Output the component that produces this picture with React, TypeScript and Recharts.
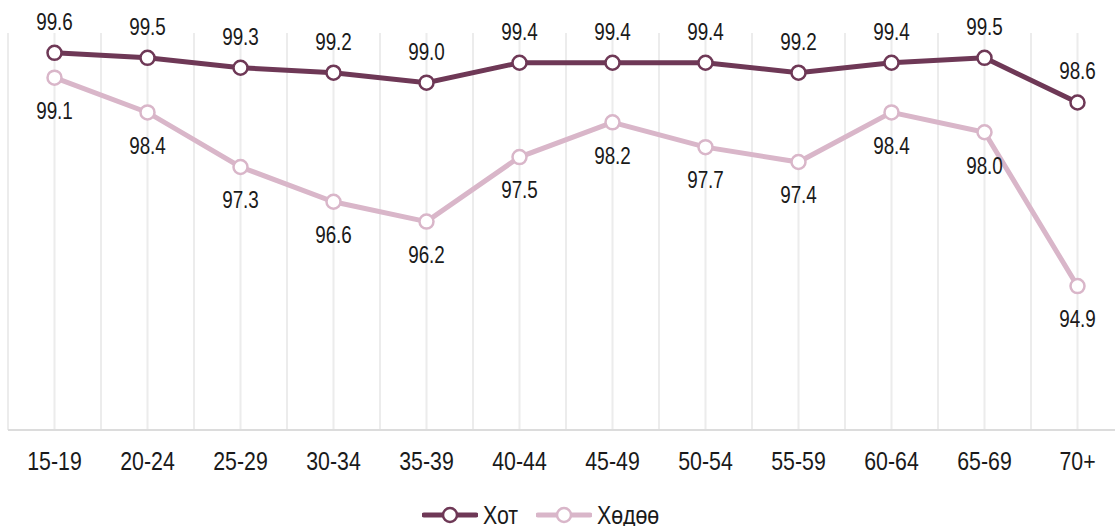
import React from "react";
import {
  CartesianGrid,
  LabelList,
  Legend,
  Line,
  LineChart,
  XAxis,
  YAxis,
} from "recharts";

const AGES = ["15-19", "20-24", "25-29", "30-34", "35-39", "40-44", "45-49", "50-54", "55-59", "60-64", "65-69", "70+"];
const URBAN = [99.6, 99.5, 99.3, 99.2, 99.0, 99.4, 99.4, 99.4, 99.2, 99.4, 99.5, 98.6];
const RURAL = [99.1, 98.4, 97.3, 96.6, 96.2, 97.5, 98.2, 97.7, 97.4, 98.4, 98.0, 94.9];

const URBAN_COLOR = "#6E3856";
const RURAL_COLOR = "#D9B6C9";
const TEXT = "#1a1a1a";
// no narrow font installed, so squeeze Liberation Sans horizontally
const FONT = '"Liberation Sans", Arial, sans-serif';
const SQUEEZE = 0.82;

const rows = AGES.map((age, i) => ({ age, urban: URBAN[i], rural: RURAL[i] }));

const SERIES = [
  { key: "urban", name: "Хот", color: URBAN_COLOR },
  { key: "rural", name: "Хөдөө", color: RURAL_COLOR },
];

function LegendBox() {
  return (
    <div style={{ display: "flex", alignItems: "center", marginLeft: 414, height: 30, fontFamily: FONT, fontSize: 26, color: TEXT }}>
      {SERIES.map((s) => (
        <div key={s.key} style={{ display: "flex", alignItems: "center", marginRight: s.key === "urban" ? 14 : 0 }}>
          <svg width={56} height={20} style={{ marginRight: 5 }}>
            <line x1={2} y1={10} x2={54} y2={10} stroke={s.color} strokeWidth={5} strokeLinecap="round" />
            <circle cx={28} cy={10} r={7} fill="#fff" stroke={s.color} strokeWidth={2.5} />
          </svg>
          <span style={{ display: "inline-block", transform: `scaleX(${SQUEEZE})`, transformOrigin: "left center", width: s.name.length * 13 }}>
            {s.name}
          </span>
        </div>
      ))}
    </div>
  );
}

const gridPoints = ({ offset }: any) => {
  const pts: number[] = [];
  for (let k = 0; k <= AGES.length * 2; k++) pts.push(offset.left + (k * offset.width) / (AGES.length * 2));
  return pts;
};

const AgeTick = ({ x, y, payload }: any) => (
  <text
    transform={`translate(${x},${y}) scale(${SQUEEZE},1)`}
    dy="0.71em"
    textAnchor="middle"
    fill={TEXT}
    fontSize={26}
    fontFamily={FONT}
  >
    {payload.value}
  </text>
);

const valueLabel = (above: boolean) => (props: any) => {
  const { x, y, value } = props;
  const ty = above ? y - 23 : y + 25;
  return (
    <text
      transform={`translate(${x},${ty}) scale(${SQUEEZE},1)`}
      dy={above ? 0 : "0.71em"}
      textAnchor="middle"
      fill={TEXT}
      fontSize={23}
      fontFamily={FONT}
    >
      {Number(value).toFixed(1)}
    </text>
  );
};

export default function App() {
  return (
    <div style={{ position: "fixed", left: 0, top: 0, width: 1115, height: 526, overflow: "hidden", background: "#fff" }}>
      <LineChart
        width={1124}
        height={545}
        data={rows}
        margin={{ top: 33, right: 0, bottom: 15, left: 8 }}
        style={{ fontFamily: FONT }}
      >
        <CartesianGrid horizontal={false} stroke="#ececec" strokeWidth={2} verticalCoordinatesGenerator={gridPoints} />
        <XAxis
          dataKey="age"
          height={70}
          padding={{ left: 46.5, right: 46.5 }}
          tickLine={false}
          tickSize={0}
          tickMargin={22}
          axisLine={{ stroke: "#dcdcdc", strokeWidth: 2 }}
          tick={<AgeTick />}
          interval={0}
        />
        <YAxis hide domain={[92, 100]} />
        <Legend verticalAlign="bottom" height={30} content={() => <LegendBox />} />
        <Line
          dataKey="urban"
          name="Хот"
          stroke={URBAN_COLOR}
          strokeWidth={5}
          dot={{ r: 7, fill: "#fff", stroke: URBAN_COLOR, strokeWidth: 2.5 }}
          activeDot={false}
          isAnimationActive={false}
        >
          <LabelList dataKey="urban" content={valueLabel(true)} />
        </Line>
        <Line
          dataKey="rural"
          name="Хөдөө"
          stroke={RURAL_COLOR}
          strokeWidth={5}
          dot={{ r: 7, fill: "#fff", stroke: RURAL_COLOR, strokeWidth: 2.5 }}
          activeDot={false}
          isAnimationActive={false}
        >
          <LabelList dataKey="rural" content={valueLabel(false)} />
        </Line>
      </LineChart>
    </div>
  );
}
